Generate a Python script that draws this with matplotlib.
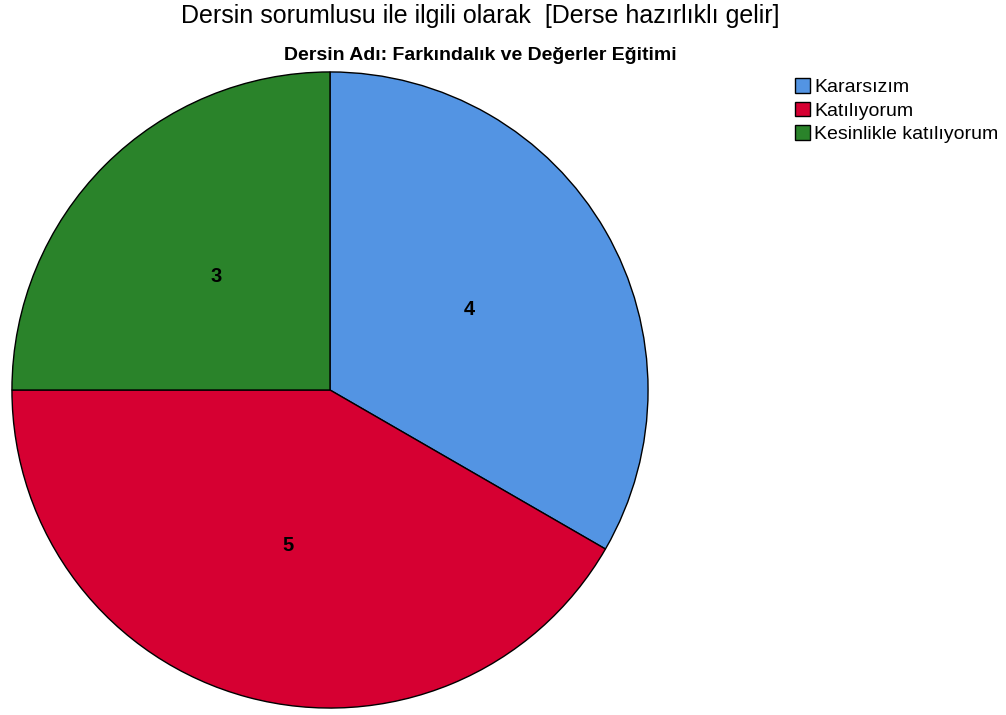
import matplotlib
matplotlib.use('Agg')
import matplotlib.pyplot as plt
from matplotlib.patches import Patch

plt.rc('font', family=['Liberation Sans', 'DejaVu Sans'])

categories = ['Kararsızım', 'Katılıyorum', 'Kesinlikle katılıyorum']
counts = [4, 5, 3]
colours = ['#5394E3', '#D60032', '#2A832A']

fig = plt.figure(figsize=(10.06, 7.15), dpi=100)
# square axes holding the pie, centre ~ (330, 390) px, radius ~319 px
ax = fig.add_axes([11 / 1006, 6 / 715, 638 / 1006, 638 / 715])
wedges, texts = ax.pie(counts, colors=colours, startangle=90, counterclock=False,
                       labels=[str(c) for c in counts], labeldistance=0.505,
                       wedgeprops=dict(edgecolor='black', linewidth=1.0),
                       textprops=dict(fontsize=14.5, fontweight='bold', ha='center', va='center'))
ax.set_xlim(-1.003, 1.003)
ax.set_ylim(-1.003, 1.003)
ax.set_aspect('equal')
ax.axis('off')

fig.text(0.4775, 0.977, 'Dersin sorumlusu ile ilgili olarak  [Derse hazırlıklı gelir]',
         ha='center', va='center', fontsize=18)
fig.text(0.4775, 0.922, 'Dersin Adı: Farkındalık ve Değerler Eğitimi',
         ha='center', va='center', fontsize=14, fontweight='bold')

handles = [Patch(facecolor=c, edgecolor='black', linewidth=1.0) for c in colours]
fig.legend(handles, categories, loc='upper left', bbox_to_anchor=(791 / 1006, 1 - 74 / 715),
           frameon=False, fontsize=14, handlelength=0.8, handleheight=0.8,
           handletextpad=0.2, labelspacing=0.28, borderpad=0.2, borderaxespad=0)

fig.savefig('out.png', dpi=100)
